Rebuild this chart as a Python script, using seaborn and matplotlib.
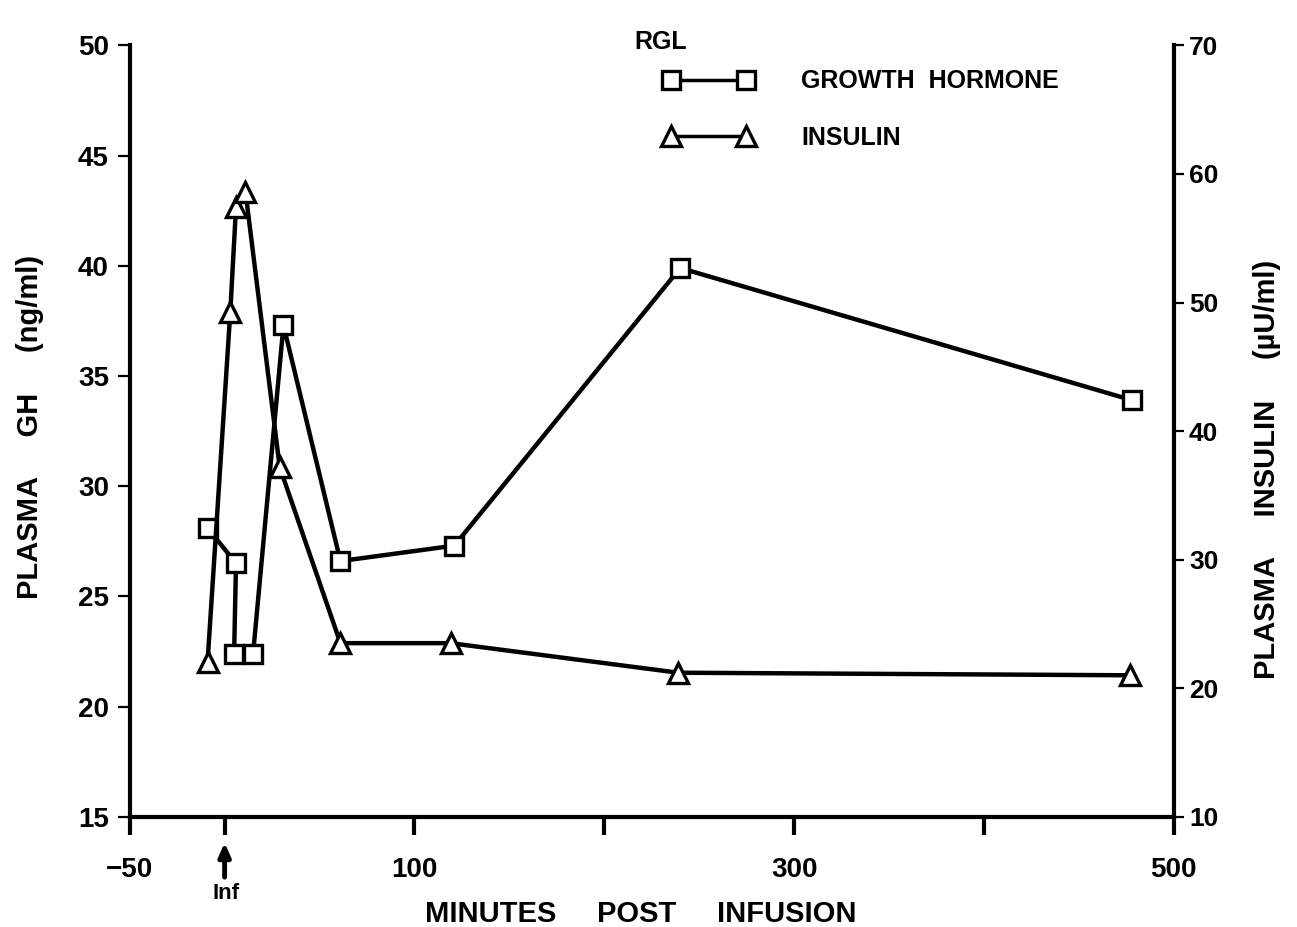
import matplotlib
matplotlib.use("Agg")
import matplotlib.pyplot as plt
import seaborn as sns
import pandas as pd
from matplotlib.lines import Line2D

# ---- data ----
gh_minutes = [-9, 6, 5, 15, 31, 61, 121, 240, 478]
gh_values = [28.1, 26.5, 22.4, 22.4, 37.3, 26.6, 27.3, 39.9, 33.9]          # ng/ml
ins_minutes = [-9, 3, 6, 11, 29, 61, 119, 239, 477]
ins_values = [22.0, 49.3, 57.4, 58.6, 37.2, 23.5, 23.5, 21.2, 21.0]        # uU/ml

x_ticks = [-50, 0, 100, 200, 300, 400, 500]
x_ticklabels = ["\u221250", "", "100", "", "300", "", "500"]
gh_ticks = [15, 20, 25, 30, 35, 40, 45, 50]
ins_ticks = [10, 20, 30, 40, 50, 60, 70]

sns.set_style("ticks")
plt.rcParams["font.family"] = ["Liberation Sans", "DejaVu Sans"]
plt.rcParams["font.weight"] = "bold"
plt.rcParams["text.color"] = "black"
plt.rcParams["axes.labelcolor"] = "black"
plt.rcParams["xtick.color"] = "black"
plt.rcParams["ytick.color"] = "black"
plt.rcParams["axes.edgecolor"] = "black"

fig = plt.figure(figsize=(12.97, 9.27), dpi=100)
ax = fig.add_axes([0.100, 0.119, 0.805, 0.832])
ax2 = ax.twinx()

gh_df = pd.DataFrame({"t": gh_minutes, "v": gh_values})
ins_df = pd.DataFrame({"t": ins_minutes, "v": ins_values})

sns.lineplot(data=gh_df, x="t", y="v", ax=ax, sort=False, estimator=None,
             color="black", linewidth=3.2, marker="s", markersize=13,
             markerfacecolor="white", markeredgecolor="black", markeredgewidth=2.4)
sns.lineplot(data=ins_df, x="t", y="v", ax=ax2, sort=False, estimator=None,
             color="black", linewidth=3.2, marker="^", markersize=15,
             markerfacecolor="white", markeredgecolor="black", markeredgewidth=2.4)

ax.set_xlim(-50, 500)
ax.set_ylim(15, 50)
ax2.set_ylim(10, 70)

ax.set_xticks(x_ticks)
ax.set_xticklabels(x_ticklabels, fontsize=20, fontweight="bold")
ax.set_yticks(gh_ticks)
ax.set_yticklabels([str(v) for v in gh_ticks], fontsize=20, fontweight="bold")
ax2.set_yticks(ins_ticks)
ax2.set_yticklabels([str(v) for v in ins_ticks], fontsize=19, fontweight="bold")

ax.tick_params(axis="x", direction="out", length=13, width=3, pad=16, colors="black")
ax.tick_params(axis="y", direction="out", length=9, width=1.6, pad=6, colors="black")
ax2.tick_params(axis="y", direction="out", length=7, width=1.6, pad=4, colors="black")

for a in (ax, ax2):
    a.spines["top"].set_visible(False)
    for s in a.spines.values():
        s.set_linewidth(3.0)
        s.set_color("black")
ax.spines["right"].set_visible(False)
ax2.spines["left"].set_visible(False)
ax2.spines["bottom"].set_visible(False)

ax.set_xlabel("MINUTES     POST     INFUSION", fontsize=21, fontweight="bold")
ax.xaxis.set_label_coords(0.489, -0.108)
ax.set_ylabel("PLASMA     GH     (ng/ml)", fontsize=21, fontweight="bold")
ax.yaxis.set_label_coords(-0.082, 0.505)
ax2.set_ylabel("PLASMA     INSULIN     (\u00b5U/ml)", fontsize=21, fontweight="bold", rotation=90)
ax2.yaxis.set_label_coords(1.076, 0.45)

# infusion marker
ax.annotate("", xy=(0, -0.030), xycoords=("data", "axes fraction"),
            xytext=(0, -0.082), textcoords=("data", "axes fraction"),
            arrowprops=dict(arrowstyle="-|>,head_length=0.8,head_width=0.35",
                            color="black", lw=3.5), annotation_clip=False)
ax.text(1, -0.100, "Inf", transform=ax.get_xaxis_transform(), ha="center", va="center",
        fontsize=16, fontweight="bold", clip_on=False)

# legend
handles = [
    Line2D([], [], color="black", linewidth=2.5, marker="s", markersize=13,
           markerfacecolor="white", markeredgecolor="black", markeredgewidth=2.4),
    Line2D([], [], color="black", linewidth=2.5, marker="^", markersize=15,
           markerfacecolor="white", markeredgecolor="black", markeredgewidth=2.4),
]
leg = ax2.legend(handles, ["GROWTH  HORMONE", "INSULIN"], numpoints=2,
                 loc="upper left", bbox_to_anchor=(0.49, 0.998), frameon=False,
                 handlelength=3.6, handletextpad=1.9, labelspacing=1.3,
                 prop={"size": 18, "weight": "bold"})
fig.text(0.5096, 0.9547, "RGL", ha="center", va="center", fontsize=18, fontweight="bold")

fig.savefig("out.png", dpi=100)
